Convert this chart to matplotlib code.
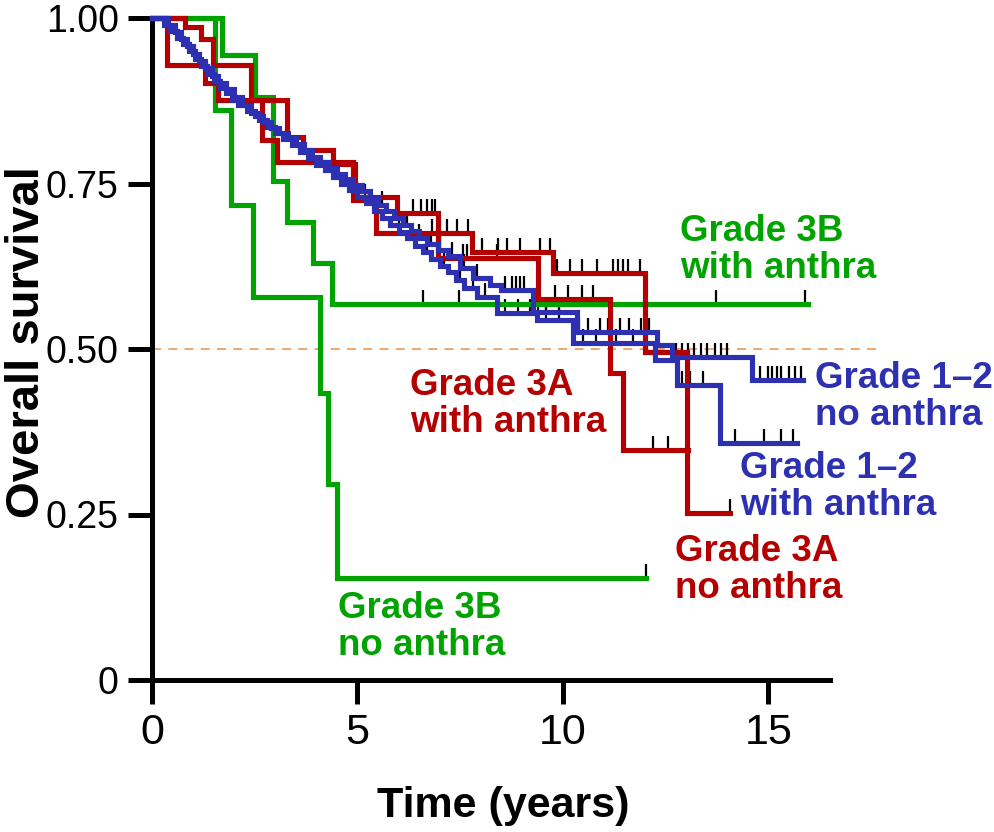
import numpy as np
import matplotlib
matplotlib.use('Agg')
import matplotlib.pyplot as plt

plt.rcParams['font.family'] = ['Liberation Sans', 'DejaVu Sans']

# Kaplan-Meier steps (time in years, survival after each step)
g3b_no_t = [0, 1.53, 1.92, 2.46, 4.09, 4.29, 4.50, 12.03]
g3b_no_s = [1.0, 0.861, 0.718, 0.578, 0.434, 0.296, 0.154, 0.154]
g3b_no_cens = [12.03]

g3b_with_t = [0, 1.70, 2.51, 2.95, 3.29, 3.92, 4.38, 15.97]
g3b_with_s = [1.0, 0.944, 0.881, 0.754, 0.692, 0.630, 0.568, 0.568]
g3b_with_cens = [6.59, 7.47, 13.73, 15.9]

r3a_no_t = [0, 0.37, 1.29, 1.60, 2.68, 3.04, 4.90, 5.45, 7.79, 9.76, 12.00, 13.03, 14.07]
r3a_no_s = [1.0, 0.929, 0.902, 0.876, 0.815, 0.782, 0.725, 0.675, 0.647, 0.615, 0.495, 0.252, 0.252]
r3a_no_cens = [6.82, 7.18, 7.43, 7.69, 8.03, 8.42, 8.64, 8.96, 9.45, 9.69,
               9.86, 10.18, 10.47, 10.84, 11.22, 11.35, 11.47, 11.59, 11.88, 14.07]

r3a_with_t = [0, 0.80, 1.20, 1.48, 2.40, 3.29, 3.68, 4.41, 4.94, 5.97, 6.96, 9.40, 11.15, 11.47, 13.05]
r3a_with_s = [1.0, 0.986, 0.968, 0.929, 0.876, 0.820, 0.800, 0.780, 0.729, 0.705, 0.637, 0.576, 0.464, 0.347, 0.347]
r3a_with_cens = [0.37, 5.19, 6.35, 6.55, 6.69, 6.82, 6.89, 7.57, 7.67, 8.40,
                 9.81, 10.13, 10.47, 10.74, 12.20, 12.56, 13.05]

b12_no_t = [0, 0.30, 0.45, 0.60, 0.75, 0.90, 1.05, 1.20, 1.35, 1.50, 1.65, 1.80, 1.95, 2.10,
            2.30, 2.50, 2.70, 2.90, 3.10, 3.30, 3.50, 3.70, 3.90, 4.10, 4.30, 4.50, 4.70,
            4.90, 5.10, 5.30, 5.50, 5.70, 5.90, 6.10, 6.30, 6.50, 6.70, 6.95, 7.20, 7.50,
            7.80, 8.23, 8.50, 9.28, 10.35, 12.30, 12.66, 14.60, 15.85]
b12_no_s = [1.0, 0.990, 0.980, 0.970, 0.960, 0.950, 0.938, 0.927, 0.916, 0.905, 0.895, 0.886,
            0.876, 0.868, 0.860, 0.852, 0.843, 0.834, 0.826, 0.818, 0.810, 0.800, 0.790,
            0.782, 0.773, 0.765, 0.757, 0.748, 0.738, 0.728, 0.718, 0.708, 0.698, 0.688,
            0.678, 0.668, 0.658, 0.650, 0.640, 0.622, 0.608, 0.597, 0.589, 0.556, 0.526,
            0.506, 0.488, 0.453, 0.453]
b12_no_cens = [5.6, 6.2, 6.5, 6.8, 7.0, 7.3, 7.6, 7.9, 8.6, 8.75, 8.85, 8.95, 9.05, 9.4, 9.6,
               9.9, 10.4, 10.6, 10.9, 11.1, 11.4, 11.6, 11.9, 12.1, 12.75, 12.9, 13.05, 13.2,
               13.35, 13.5, 13.7, 13.85, 14.0, 14.8, 15.0, 15.1, 15.2, 15.3, 15.5, 15.65, 15.8]

b12_with_t = [0, 0.40, 0.55, 0.70, 0.85, 1.00, 1.15, 1.30, 1.45, 1.60, 1.80, 2.00, 2.20, 2.40,
              2.60, 2.80, 3.00, 3.20, 3.40, 3.60, 3.80, 4.00, 4.20, 4.40, 4.60, 4.80, 5.00,
              5.20, 5.40, 5.60, 5.80, 6.00, 6.20, 6.40, 6.60, 6.80, 7.00, 7.20, 7.40, 7.60,
              7.90, 8.40, 9.37, 10.25, 12.25, 12.78, 13.83, 15.70]
b12_with_s = [1.0, 0.990, 0.979, 0.968, 0.957, 0.946, 0.935, 0.924, 0.913, 0.902, 0.892, 0.880,
              0.868, 0.857, 0.846, 0.836, 0.826, 0.817, 0.808, 0.798, 0.788, 0.778, 0.770,
              0.760, 0.750, 0.740, 0.730, 0.720, 0.709, 0.698, 0.688, 0.677, 0.667, 0.656,
              0.646, 0.636, 0.626, 0.616, 0.604, 0.592, 0.578, 0.554, 0.544, 0.509, 0.483,
              0.446, 0.358, 0.358]
b12_with_cens = [6.0, 6.4, 6.7, 7.1, 7.5, 7.8, 8.1, 8.6, 8.9, 9.2, 9.6, 9.9, 10.5, 10.8, 11.3,
                 11.7, 12.0, 12.9, 13.1, 13.4, 14.2, 14.9, 15.3, 15.6]

green = '#00a300'
red = '#b40000'
blue = '#2d30b0'


def surv_at(t, s, x):
    i = np.searchsorted(t, x, side='right') - 1
    return np.array(s)[i]


fig = plt.figure(figsize=(9.94, 8.32), dpi=100)
ax = fig.add_axes([152 / 994, 1 - 680 / 832, 678 / 994, 662 / 832])

ax.plot([0, 17.7], [0.5, 0.5], color='#f0a060', lw=1.3, dashes=(5, 4), clip_on=False, zorder=1)

curves = [
    (g3b_no_t, g3b_no_s, g3b_no_cens, green),
    (g3b_with_t, g3b_with_s, g3b_with_cens, green),
    (r3a_no_t, r3a_no_s, r3a_no_cens, red),
    (r3a_with_t, r3a_with_s, r3a_with_cens, red),
    (b12_no_t, b12_no_s, b12_no_cens, blue),
    (b12_with_t, b12_with_s, b12_with_cens, blue),
]
for k, (t, s, cens, col) in enumerate(curves):
    ax.step(t, s, where='post', color=col, lw=3.7, solid_joinstyle='miter',
            clip_on=False, zorder=3 + k)
    cs = surv_at(t, s, cens)
    ax.vlines(cens, cs, cs + 0.021, color='black', lw=1.6, zorder=2)

ax.set_xlim(0, 16.5)
ax.set_ylim(0, 1.0)
ax.set_xticks([0, 5, 10, 15])
ax.set_yticks([0, 0.25, 0.5, 0.75, 1.0])
ax.set_yticklabels(['0', '0.25', '0.50', '0.75', '1.00'])
for side in ['top', 'right']:
    ax.spines[side].set_visible(False)
for side in ['left', 'bottom']:
    ax.spines[side].set_linewidth(3.6)
ax.tick_params(length=17, width=3.6)
ax.tick_params(axis='y', pad=7, labelsize=27)
ax.tick_params(axis='x', pad=7, labelsize=31)

fig.text(503 / 994, 1 - 806 / 832, 'Time (years)', fontsize=31, fontweight='bold',
         ha='center', va='center')
fig.text(27 / 994, 1 - 342 / 832, 'Overall survival', fontsize=34, fontweight='bold',
         rotation=90, ha='center', va='center')

# (text, left px, baseline of last line px, colour)
labels = [
    ('Grade 3B\nwith anthra', 680, 278, green),
    ('Grade 3A\nwith anthra', 410, 432, red),
    ('Grade 1–2\nno anthra', 815, 425, blue),
    ('Grade 1–2\nwith anthra', 740, 515, blue),
    ('Grade 3A\nno anthra', 675, 598, red),
    ('Grade 3B\nno anthra', 338, 655, green),
]
for txt, px, py, col in labels:
    fig.text(px / 994, 1 - py / 832, txt, color=col, fontsize=26.5, fontweight='bold',
             ha='left', va='baseline', linespacing=1.07)

fig.savefig('out.png', dpi=100)
